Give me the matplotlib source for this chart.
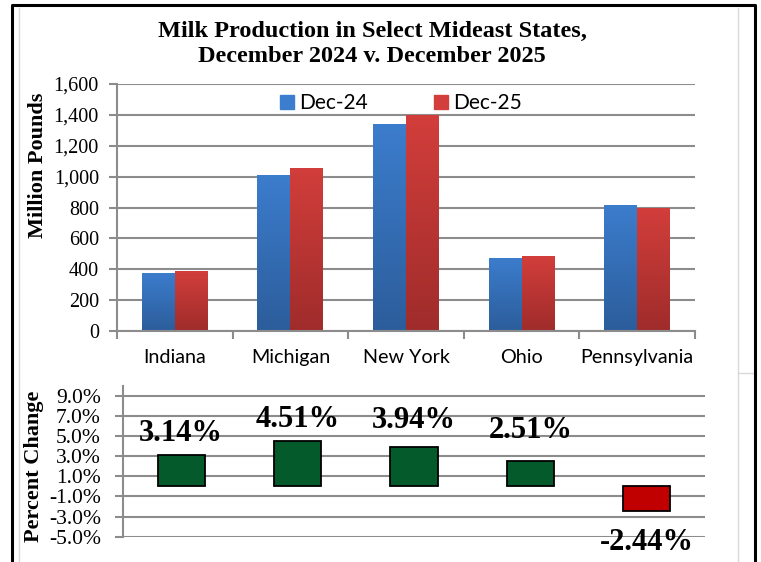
import numpy as np
import matplotlib
matplotlib.use("Agg")
import matplotlib.pyplot as plt
from matplotlib.colors import LinearSegmentedColormap
from matplotlib.ticker import FuncFormatter, FixedLocator
from matplotlib.lines import Line2D

# ---------------- data ----------------
states = ["Indiana", "Michigan", "New York", "Ohio", "Pennsylvania"]
dec24 = [378, 1012, 1343, 473, 818]
dec25 = [390, 1058, 1396, 485, 798]
pct_change = [3.14, 4.51, 3.94, 2.51, -2.44]
pct_labels = ["3.14%", "4.51%", "3.94%", "2.51%", "-2.44%"]
series_names = ["Dec-24", "Dec-25"]
title = "Milk Production in Select Mideast States,\nDecember 2024 v. December 2025"

# ---------------- style ----------------
W, H = 761, 562
serif = "Liberation Serif"
sans = "Lato"
grid_c = "#8C8C8C"
blue_top, blue_bot = "#3C7DCD", "#2C5D9B"
red_top, red_bot = "#D23E3B", "#9F2C2B"
green = "#045A2B"
neg_red = "#C00000"
label_offsets_pt = [9.9, 10.2, 13.6, 16.6, -28]

fig = plt.figure(figsize=(W / 100, H / 100), dpi=100)

def px_axes(l, t, r, b):
    return fig.add_axes([l / W, 1 - b / H, (r - l) / W, (b - t) / H])

# ---------------- top chart ----------------
ax1 = px_axes(117, 84, 695, 331)
x = np.arange(len(states))
bw = 0.285
bars24 = ax1.bar(x - bw / 2, dec24, bw, color=blue_top, zorder=2, linewidth=0)
bars25 = ax1.bar(x + bw / 2, dec25, bw, color=red_top, zorder=2, linewidth=0)

def add_gradient(ax, bars, c_top, c_bot):
    cmap = LinearSegmentedColormap.from_list("g", [c_bot, c_top])
    grad = np.linspace(0, 1, 256).reshape(-1, 1)
    for b in bars:
        x0, y0 = b.get_x(), b.get_y()
        w, h = b.get_width(), b.get_height()
        im = ax.imshow(grad, cmap=cmap, origin="lower", aspect="auto",
                       extent=(x0, x0 + w, y0, y0 + h), zorder=2.1)
        im.set_clip_path(b)

add_gradient(ax1, bars24, blue_top, blue_bot)
add_gradient(ax1, bars25, red_top, red_bot)
ax1.set_xlim(-0.5, len(states) - 0.5)
ax1.set_ylim(0, 1600)

ax1.set_yticks(np.arange(0, 1601, 200))
ax1.yaxis.set_major_formatter(FuncFormatter(lambda v, p: f"{int(v):,}"))
ax1.grid(axis="y", color=grid_c, linewidth=1.5, zorder=0)
ax1.set_axisbelow(True)
for s in ["top", "right"]:
    ax1.spines[s].set_visible(False)
for s in ["left", "bottom"]:
    ax1.spines[s].set_color(grid_c)
    ax1.spines[s].set_linewidth(1.5)
ax1.tick_params(axis="y", length=6, width=1.5, color=grid_c, pad=7,
                labelsize=14.5)
for t in ax1.get_yticklabels():
    t.set_fontfamily(serif)
ax1.set_xticks(x)
ax1.set_xticklabels(states, fontfamily=sans, fontsize=14.2)
ax1.tick_params(axis="x", which="major", length=0, pad=13)
ax1.xaxis.set_minor_locator(FixedLocator(np.arange(-0.5, len(states), 1.0)))
ax1.tick_params(axis="x", which="minor", length=6, width=1.5, color=grid_c)
ax1.set_ylabel("Million Pounds", fontfamily=serif, fontweight="bold",
               fontsize=16)
ax1.yaxis.set_label_coords(-0.12, 0.67)

handles = [Line2D([], [], marker="s", linestyle="none", markersize=10,
                  markerfacecolor=c, markeredgecolor=c)
           for c in (blue_top, red_top)]
leg = ax1.legend(handles, series_names, loc="upper center", ncol=2,
                 frameon=False, prop={"family": sans, "size": 15},
                 handletextpad=0.2, columnspacing=3.1, handlelength=0.8,
                 bbox_to_anchor=(0.49, 1.04))

# ---------------- bottom chart ----------------
ax2 = px_axes(123, 385.6, 705, 536.7)
colors = [green if v >= 0 else neg_red for v in pct_change]
bars = ax2.bar(x, pct_change, 0.405, color=colors, edgecolor="black",
               linewidth=1.3, zorder=3)
ax2.set_xlim(-0.5, len(states) - 0.5)
ax2.set_ylim(-5, 10)
ax2.set_yticks(np.arange(-5, 10, 2))
ax2.yaxis.set_major_formatter(FuncFormatter(lambda v, p: f"{v:.1f}%"))
ax2.grid(axis="y", color=grid_c, linewidth=1.5, zorder=0)
ax2.set_axisbelow(True)
ax2.set_xticks([])
for s in ["top", "right", "bottom"]:
    ax2.spines[s].set_visible(False)
ax2.spines["left"].set_color(grid_c)
ax2.spines["left"].set_linewidth(1.5)
ax2.tick_params(axis="y", length=6, width=1.5, color=grid_c, pad=10,
                labelsize=15.5)
for t in ax2.get_yticklabels():
    t.set_fontfamily(serif)
ax2.set_ylabel("Percent Change", fontfamily=serif, fontweight="bold",
               fontsize=16)
ax2.yaxis.set_label_coords(-0.136, 0.468)

for b, lab, off in zip(bars, pct_labels, label_offsets_pt):
    cx = b.get_x() + b.get_width() / 2
    ax2.annotate(lab, (cx, b.get_height()), xytext=(0, off),
                 textcoords="offset points", ha="center", va="baseline",
                 fontfamily=serif, fontweight="bold", fontsize=22,
                 zorder=5, annotation_clip=False)

# ---------------- title & frame ----------------
fig.text(372 / W, 1 - 44 / H, title, ha="center", va="center",
         fontfamily=serif, fontweight="bold", fontsize=17.5, linespacing=1.3)

def fig_line(xs, ys, color, lw):
    fig.add_artist(Line2D([v / W for v in xs], [1 - v / H for v in ys],
                          color=color, linewidth=lw))

fig_line([19, 19], [8, H], "#D9D9D9", 1)
fig_line([738, 738], [8, H], "#D9D9D9", 1)
fig_line([738, 754], [373, 373], "#D9D9D9", 1)
fig_line([12, 12, 755, 755], [H, 5, 5, H], "black", 2.2)

fig.savefig("out.png", dpi=100)
